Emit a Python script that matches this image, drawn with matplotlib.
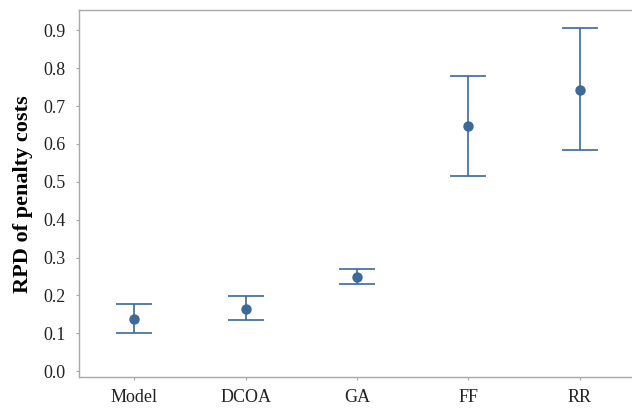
import matplotlib
matplotlib.use("Agg")
import matplotlib.pyplot as plt

methods = ["Model", "DCOA", "GA", "FF", "RR"]
means = [0.138, 0.164, 0.249, 0.647, 0.742]
upper = [0.177, 0.199, 0.271, 0.780, 0.905]
lower = [0.102, 0.135, 0.231, 0.516, 0.583]
yticks = [0.0, 0.1, 0.2, 0.3, 0.4, 0.5, 0.6, 0.7, 0.8, 0.9]

plt.rcParams['font.family'] = ['Liberation Serif', 'DejaVu Serif']

blue = '#3b6998'
grey = '#a8a8a8'

fig = plt.figure(figsize=(6.32, 4.08), dpi=100)
ax = fig.add_axes([0.1245, 0.0748, 0.8809, 0.9007])

x = list(range(len(methods)))
err_lo = [m - l for m, l in zip(means, lower)]
err_hi = [u - m for m, u in zip(means, upper)]
ax.errorbar(x, means, yerr=[err_lo, err_hi], fmt='o', color=blue, ecolor=blue,
            markersize=6.5, elinewidth=1.2, capsize=13, capthick=1.2)

ax.set_xlim(-0.5, 4.5)
ax.set_ylim(-0.0164, 0.9535)
ax.set_xticks(x)
ax.set_xticklabels(methods)
ax.set_yticks(yticks)
ax.set_yticklabels([f"{t:.1f}" for t in yticks])
ax.set_ylabel("RPD of penalty costs", fontsize=16, fontweight='bold', labelpad=7)

for s in ax.spines.values():
    s.set_color(grey)
    s.set_linewidth(1.0)
ax.tick_params(colors=grey, labelcolor='#222222', labelsize=13, length=2.5, width=0.8)
ax.tick_params(axis='y', pad=7)
ax.tick_params(axis='x', pad=6)

fig.savefig("out.png", dpi=100)
